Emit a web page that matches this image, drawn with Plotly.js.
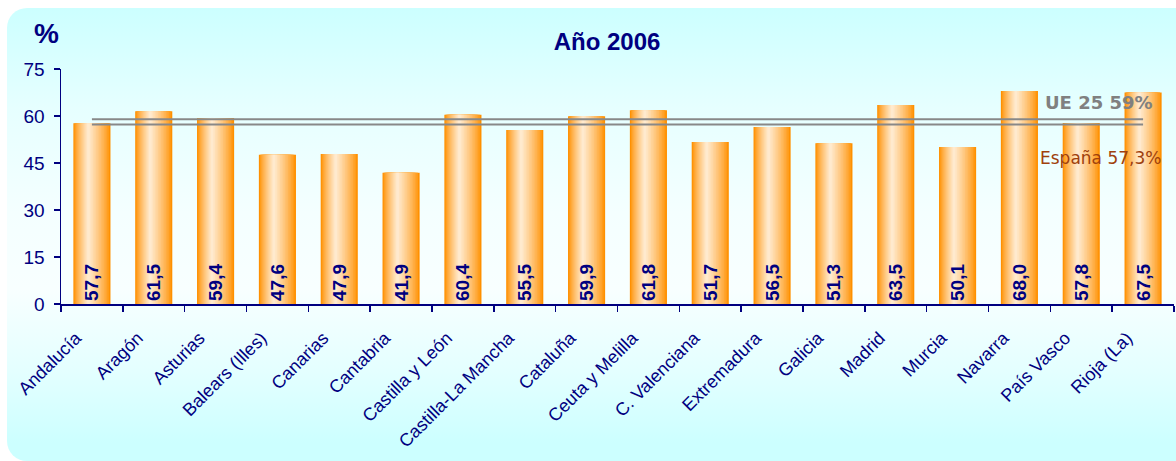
<!DOCTYPE html>
<html>
<head>
<meta charset="utf-8">
<script src="https://cdn.plot.ly/plotly-3.0.1.min.js"></script>
<style>
  html, body { margin: 0; padding: 0; background: #ffffff; width: 1176px; height: 461px; overflow: hidden; }
  #panel { position: absolute; left: 7px; top: 8px; width: 1200px; height: 453px; border-radius: 20px;
    background: linear-gradient(to bottom, #ccffff 0%, #e6ffff 22%, #f4ffff 45%, #f8ffff 62%, #e4ffff 80%, #ccffff 96%); }
  #chart { position: absolute; left: 0; top: 0; width: 1176px; height: 461px; }
</style>
</head>
<body>
<div id="panel"></div>
<div id="chart"></div>
<script>
const categories = ["Andalucía", "Aragón", "Asturias", "Balears (Illes)", "Canarias", "Cantabria",
  "Castilla y León", "Castilla-La Mancha", "Cataluña", "Ceuta y Melilla", "C. Valenciana",
  "Extremadura", "Galicia", "Madrid", "Murcia", "Navarra", "País Vasco", "Rioja (La)"];
const values = [57.7, 61.5, 59.4, 47.6, 47.9, 41.9, 60.4, 55.5, 59.9, 61.8, 51.7, 56.5, 51.3, 63.5, 50.1, 68.0, 57.8, 67.5];
const ueValue = 59;
const espanaValue = 57.3;
const ueLabel = "UE 25 59%";
const espanaLabel = "España 57,3%";
const yTicks = [0, 15, 30, 45, 60, 75];

const navy = "#000080";
const sans = "Liberation Sans, Arial, sans-serif";

// Gradient bars via nested overlay bars
const N = 14;
const barW = 0.6;
const leftPart = 0.40 * barW, rightPart = 0.60 * barW;
const center = -barW / 2 + leftPart;
const outer = [255, 144, 0], inner = [255, 234, 206];
const traces = [];
for (let k = 0; k < N; k++) {
  const f = 1 - k / N;
  const t = Math.pow(k / (N - 1), 0.8);
  const c = outer.map((o, i) => Math.round(o + (inner[i] - o) * t));
  traces.push({
    type: "bar", x: categories, y: values,
    width: (leftPart + rightPart) * f,
    offset: center - leftPart * f,
    marker: { color: `rgb(${c[0]},${c[1]},${c[2]})`, line: { width: 0 } },
    hoverinfo: "skip", showlegend: false
  });
}
// value labels
traces.push({
  type: "bar", x: categories, y: values, width: barW, offset: -barW / 2,
  marker: { color: "rgba(0,0,0,0)", line: { width: 0 } },
  texttemplate: "%{y:.1f}", textposition: "inside", insidetextanchor: "start",
  textangle: -90, constraintext: "none",
  textfont: { family: sans, size: 19, color: navy, weight: "bold" },
  hoverinfo: "skip", showlegend: false
});
// reference lines
const first = categories[0], last = categories[categories.length - 1];
traces.push({ type: "scatter", mode: "lines", x: [first, last], y: [ueValue, ueValue],
  line: { color: "#888888", width: 2 }, hoverinfo: "skip", showlegend: false });
traces.push({ type: "scatter", mode: "lines", x: [first, last], y: [espanaValue, espanaValue],
  line: { color: "#888888", width: 2 }, hoverinfo: "skip", showlegend: false });

const layout = {
  width: 1176, height: 461,
  margin: { l: 61, r: 2, t: 69, b: 157 },
  paper_bgcolor: "rgba(0,0,0,0)", plot_bgcolor: "rgba(0,0,0,0)",
  barmode: "overlay",
  separators: ",.",
  title: { text: "Año 2006", font: { family: sans, size: 24, color: navy, weight: "bold" },
    xref: "container", x: 607 / 1176, xanchor: "center", yref: "container", y: 1 - 42 / 461, yanchor: "middle" },
  xaxis: {
    type: "category", showline: true, linecolor: navy, linewidth: 1.5,
    ticks: "outside", tickson: "boundaries", ticklen: 6, tickcolor: navy, tickwidth: 1.5,
    tickangle: -45, tickfont: { family: sans, size: 18, color: navy },
    ticklabelstandoff: 15, ticklabelshift: -16,
    showgrid: false, zeroline: false, fixedrange: true
  },
  yaxis: {
    range: [0, 75], tickvals: yTicks, showline: true, linecolor: navy, linewidth: 1.5,
    ticks: "outside", ticklen: 6, tickcolor: navy, tickwidth: 1.5,
    tickfont: { family: sans, size: 19, color: navy }, ticklabelstandoff: 5,
    showgrid: false, zeroline: false, fixedrange: true
  },
  annotations: [
    { text: "%", xref: "paper", yref: "paper", x: (46 - 61) / 1113, y: (304 - 33) / 235,
      xanchor: "center", yanchor: "middle", showarrow: false,
      font: { family: sans, size: 28, color: navy, weight: "bold" } },
    { text: ueLabel, xref: "paper", yref: "y", x: (1155 - 61) / 1113, y: ueValue,
      xanchor: "right", yanchor: "middle", yshift: 17, showarrow: false,
      font: { family: "DejaVu Sans", size: 18, color: "#808080", weight: "bold" } },
    { text: espanaLabel, xref: "paper", yref: "y", x: (1163 - 61) / 1113, y: espanaValue,
      xanchor: "right", yanchor: "middle", yshift: -34, showarrow: false,
      font: { family: "DejaVu Sans", size: 17, color: "#a0400c" } }
  ]
};

Plotly.newPlot("chart", traces, layout, { displayModeBar: false, staticPlot: true });
</script>
</body>
</html>
